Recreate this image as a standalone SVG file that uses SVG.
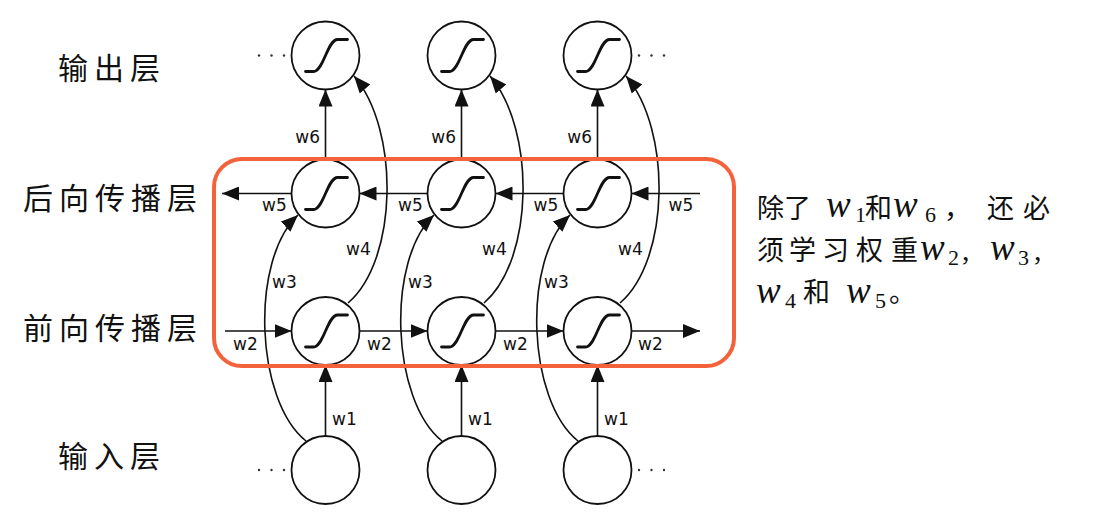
<svg xmlns="http://www.w3.org/2000/svg" width="1095" height="529" viewBox="0 0 1095 529">
<defs>
<style>
.nd{fill:#fff;stroke:#111;stroke-width:1.8}
.sg{fill:none;stroke:#111;stroke-width:2.8;stroke-linecap:round}
.ed{fill:none;stroke:#111;stroke-width:1.6}
.el{font-family:"DejaVu Sans",sans-serif;font-size:17px;fill:#111}
.ly{font-family:"Noto Sans CJK SC",sans-serif;font-size:30px;letter-spacing:6px;fill:#111}
.cj{font-family:"Noto Sans CJK SC",sans-serif;font-size:27px;fill:#111}
.mw{font-family:"Liberation Serif",serif;font-style:italic;font-size:37px;fill:#111}
.sb{font-family:"Liberation Serif",serif;font-size:22px;fill:#111}
.mc{font-family:"Liberation Serif",serif;font-size:30px;fill:#111}
.dt{fill:#333}
</style>
<marker id="ah" markerUnits="userSpaceOnUse" markerWidth="17" markerHeight="14" refX="17" refY="7" orient="auto">
<path d="M0,0 L17,7 L0,14 z" fill="#111"/>
</marker>
<path id="sig" d="M-20,16 L-12,16 C-2,16 2,-16 12,-16 L22,-16"/>
</defs>
<rect width="1095" height="529" fill="#fff"/>

<g id="layer-labels">
<text class="ly" x="58" y="79">输出层</text>
<text class="ly" x="23" y="209">后向传播层</text>
<text class="ly" x="23" y="339">前向传播层</text>
<text class="ly" x="58" y="467">输入层</text>
</g>

<g id="connectors">
<path class="ed" marker-end="url(#ah)" d="M325.5,436 L325.5,365"/>
<path class="ed" marker-end="url(#ah)" d="M461.5,436 L461.5,365"/>
<path class="ed" marker-end="url(#ah)" d="M597.5,436 L597.5,365"/>
<path class="ed" marker-end="url(#ah)" d="M325.5,159.5 L325.5,89.5"/>
<path class="ed" marker-end="url(#ah)" d="M461.5,159.5 L461.5,89.5"/>
<path class="ed" marker-end="url(#ah)" d="M597.5,159.5 L597.5,89.5"/>
<path class="ed" marker-end="url(#ah)" d="M306,441 C255,400 250,260 298,215"/>
<path class="ed" marker-end="url(#ah)" d="M442,441 C391,400 386,260 434,215"/>
<path class="ed" marker-end="url(#ah)" d="M578,441 C527,400 522,260 570,215"/>
<path class="ed" marker-end="url(#ah)" d="M348,303 C398,260 400,130 354,76"/>
<path class="ed" marker-end="url(#ah)" d="M484,303 C534,260 536,130 490,76"/>
<path class="ed" marker-end="url(#ah)" d="M620,303 C670,260 672,130 626,76"/>
<path class="ed" marker-end="url(#ah)" d="M700,193.5 L631.5,193.5"/>
<path class="ed" marker-end="url(#ah)" d="M563.5,193.5 L495.5,193.5"/>
<path class="ed" marker-end="url(#ah)" d="M427.5,193.5 L359.5,193.5"/>
<path class="ed" marker-end="url(#ah)" d="M291.5,193.5 L222,193.5"/>
<path class="ed" marker-end="url(#ah)" d="M225,331 L291.5,331"/>
<path class="ed" marker-end="url(#ah)" d="M359.5,331 L427.5,331"/>
<path class="ed" marker-end="url(#ah)" d="M495.5,331 L563.5,331"/>
<path class="ed" marker-end="url(#ah)" d="M631.5,331 L700,331"/>
<text class="el" x="332" y="425">w1</text>
<text class="el" x="468" y="425">w1</text>
<text class="el" x="604" y="425">w1</text>
<text class="el" x="320" y="143" text-anchor="end">w6</text>
<text class="el" x="456" y="143" text-anchor="end">w6</text>
<text class="el" x="592" y="143" text-anchor="end">w6</text>
<text class="el" x="272" y="288">w3</text>
<text class="el" x="408" y="288">w3</text>
<text class="el" x="544" y="288">w3</text>
<text class="el" x="346" y="255">w4</text>
<text class="el" x="482" y="255">w4</text>
<text class="el" x="618" y="255">w4</text>
<text class="el" x="262" y="211">w5</text>
<text class="el" x="398" y="211">w5</text>
<text class="el" x="533.5" y="211">w5</text>
<text class="el" x="668.5" y="211">w5</text>
<text class="el" x="233" y="350">w2</text>
<text class="el" x="367" y="350">w2</text>
<text class="el" x="503" y="350">w2</text>
<text class="el" x="638" y="350">w2</text>
</g>

<g id="ellipsis">
<circle class="dt" cx="259" cy="55.5" r="1.2"/><circle class="dt" cx="271.5" cy="55.5" r="1.2"/><circle class="dt" cx="284" cy="55.5" r="1.2"/>
<circle class="dt" cx="639" cy="55.5" r="1.2"/><circle class="dt" cx="651.5" cy="55.5" r="1.2"/><circle class="dt" cx="664" cy="55.5" r="1.2"/>
<circle class="dt" cx="259" cy="470" r="1.2"/><circle class="dt" cx="271.5" cy="470" r="1.2"/><circle class="dt" cx="284" cy="470" r="1.2"/>
<circle class="dt" cx="639" cy="470" r="1.2"/><circle class="dt" cx="651.5" cy="470" r="1.2"/><circle class="dt" cx="664" cy="470" r="1.2"/>
</g>

<g id="out1"><circle class="nd" cx="325.5" cy="55.5" r="34"/><use class="sg" href="#sig" x="325.5" y="55.5"/></g>
<g id="out2"><circle class="nd" cx="461.5" cy="55.5" r="34"/><use class="sg" href="#sig" x="461.5" y="55.5"/></g>
<g id="out3"><circle class="nd" cx="597.5" cy="55.5" r="34"/><use class="sg" href="#sig" x="597.5" y="55.5"/></g>
<g id="bwd1"><circle class="nd" cx="325.5" cy="193.5" r="34"/><use class="sg" href="#sig" x="325.5" y="193.5"/></g>
<g id="bwd2"><circle class="nd" cx="461.5" cy="193.5" r="34"/><use class="sg" href="#sig" x="461.5" y="193.5"/></g>
<g id="bwd3"><circle class="nd" cx="597.5" cy="193.5" r="34"/><use class="sg" href="#sig" x="597.5" y="193.5"/></g>
<g id="fwd1"><circle class="nd" cx="325.5" cy="331" r="34"/><use class="sg" href="#sig" x="325.5" y="331"/></g>
<g id="fwd2"><circle class="nd" cx="461.5" cy="331" r="34"/><use class="sg" href="#sig" x="461.5" y="331"/></g>
<g id="fwd3"><circle class="nd" cx="597.5" cy="331" r="34"/><use class="sg" href="#sig" x="597.5" y="331"/></g>
<g id="in1"><circle class="nd" cx="325.5" cy="470" r="34"/></g>
<g id="in2"><circle class="nd" cx="461.5" cy="470" r="34"/></g>
<g id="in3"><circle class="nd" cx="597.5" cy="470" r="34"/></g>

<g id="hidden-box">
<rect x="214" y="159" width="520" height="207" rx="28" fill="none" stroke="#F4623C" stroke-width="4"/>
</g>

<g id="note">
<text class="cj" x="757" y="218">除</text>
<text class="cj" x="784" y="218">了</text>
<text class="mw" x="826" y="217">w</text>
<text class="sb" x="855" y="222">1</text>
<text class="cj" x="865" y="218">和</text>
<text class="mw" x="893" y="217">w</text>
<text class="sb" x="925" y="222">6</text>
<text class="cj" x="944" y="218">，</text>
<text class="cj" x="987" y="218">还</text>
<text class="cj" x="1023" y="218">必</text>

<text class="cj" x="757" y="260">须</text>
<text class="cj" x="789" y="260">学</text>
<text class="cj" x="822" y="260">习</text>
<text class="cj" x="856" y="260">权</text>
<text class="cj" x="891" y="260">重</text>
<text class="mw" x="920" y="260">w</text>
<text class="sb" x="948" y="265">2</text>
<text class="mc" x="962" y="260">,</text>
<text class="mw" x="990" y="260">w</text>
<text class="sb" x="1018" y="265">3</text>
<text class="mc" x="1034" y="260">,</text>

<text class="mw" x="756" y="303">w</text>
<text class="sb" x="785" y="308">4</text>
<text class="cj" x="803" y="302">和</text>
<text class="mw" x="846" y="303">w</text>
<text class="sb" x="875" y="308">5</text>
<text class="cj" x="889" y="302">。</text>
</g>
</svg>
